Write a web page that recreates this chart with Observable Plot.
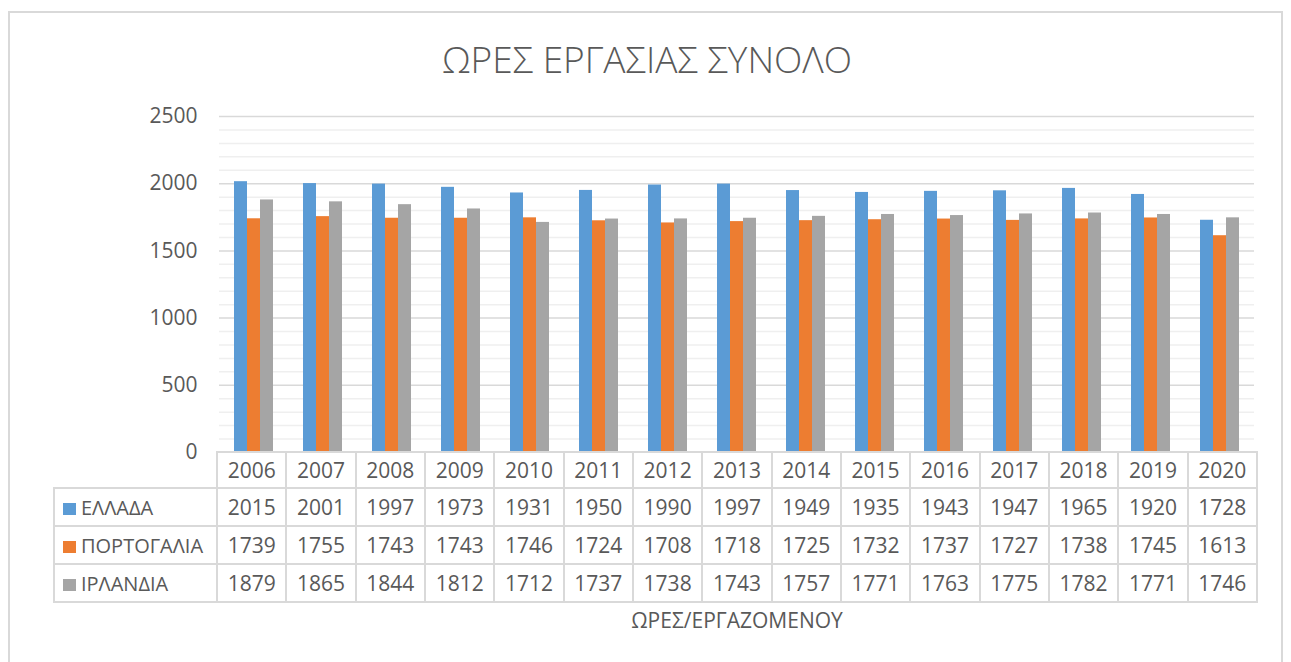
<!DOCTYPE html>
<html>
<head>
<meta charset="utf-8">
<script src="https://cdn.jsdelivr.net/npm/d3@7"></script>
<script src="https://cdn.jsdelivr.net/npm/@observablehq/plot@0.6"></script>
<style>
  html, body { margin: 0; padding: 0; background: #fff; }
  #wrap { position: relative; width: 1291px; height: 662px; overflow: hidden; font-family: "Open Sans", "Noto Sans", sans-serif; color: #595959; }
  #frame { position: absolute; left: 8px; top: 11px; width: 1275px; height: 700px; border: 2px solid #d9d9d9; box-sizing: border-box; }
  #title { position: absolute; left: 0; width: 1294px; top: 33px; text-align: center; font-size: 37px; font-weight: 300; line-height: 52px; color: #595959; }
  #chart { position: absolute; left: 0; top: 0; }
  #tbl { position: absolute; left: 53px; top: 451px; border-collapse: collapse; table-layout: fixed; }
  #tbl td { border: 2px solid #d9d9d9; padding: 0; text-align: center; font-size: 21px; color: #595959; white-space: nowrap; overflow: hidden; }
  #tbl td.blank { border: none; border-right: 2px solid #d9d9d9; }
  #tbl td.lab { text-align: left; font-size: 20px; padding-left: 8px; }
  .sw { display: inline-block; width: 13px; height: 12px; margin-right: 5px; vertical-align: 0px; }
  #xlabel { position: absolute; left: 0; width: 1474px; top: 606px; text-align: center; font-size: 21px; color: #595959; }
</style>
</head>
<body>
<div id="wrap">
  <div id="frame"></div>
  <div id="title"></div>
  <div id="chart"></div>
  <table id="tbl"></table>
  <div id="xlabel"></div>
</div>
<script>
const title = "ΩΡΕΣ ΕΡΓΑΣΙΑΣ ΣΥΝΟΛΟ";
const axisTitle = "ΩΡΕΣ/ΕΡΓΑΖΟΜΕΝΟΥ";
const years = ["2006","2007","2008","2009","2010","2011","2012","2013","2014","2015","2016","2017","2018","2019","2020"];
const seriesNames = ["ΕΛΛΑΔΑ", "ΠΟΡΤΟΓΑΛΙΑ", "ΙΡΛΑΝΔΙΑ"];
const seriesColors = ["#5B9BD5", "#ED7D31", "#A5A5A5"];
const greece   = [2015, 2001, 1997, 1973, 1931, 1950, 1990, 1997, 1949, 1935, 1943, 1947, 1965, 1920, 1728];
const portugal = [1739, 1755, 1743, 1743, 1746, 1724, 1708, 1718, 1725, 1732, 1737, 1727, 1738, 1745, 1613];
const ireland  = [1879, 1865, 1844, 1812, 1712, 1737, 1738, 1743, 1757, 1771, 1763, 1775, 1782, 1771, 1746];
const majorTicks = [0, 500, 1000, 1500, 2000, 2500];
const minorTicks = [100,200,300,400,600,700,800,900,1100,1200,1300,1400,1600,1700,1800,1900,2100,2200,2300,2400];

const seriesValues = [greece, portugal, ireland];
const data = [];
years.forEach((y, i) => seriesNames.forEach((s, j) => data.push({year: y, series: s, value: seriesValues[j][i]})));

document.getElementById("title").textContent = title;
document.getElementById("xlabel").textContent = axisTitle;

const chart = Plot.plot({
  width: 1291,
  height: 470,
  marginLeft: 216,
  marginRight: 35,
  marginTop: 116,
  marginBottom: 18,
  style: { fontFamily: "'Open Sans', 'Noto Sans', sans-serif", fontSize: "21px", color: "#595959", background: "transparent" },
  fx: { domain: years, padding: 0, axis: null, label: null },
  x: { domain: seriesNames, paddingInner: 0, paddingOuter: 0.975, axis: null },
  y: { domain: [0, 2500], ticks: majorTicks, tickSize: 0, tickPadding: 22, label: null, tickFormat: d => String(d) },
  color: { domain: seriesNames, range: seriesColors },
  marks: [
    Plot.gridY(minorTicks, { stroke: "#efefef", strokeOpacity: 1, strokeWidth: 1.5 }),
    Plot.gridY(majorTicks.slice(1), { stroke: "#d9d9d9", strokeOpacity: 1, strokeWidth: 1.5 }),
    Plot.barY(data, { fx: "year", x: "series", y: "value", fill: "series" })
  ]
});
document.getElementById("chart").appendChild(chart);

// data table under the chart
const tbl = d3.select("#tbl");
const colg = tbl.append("colgroup");
colg.append("col").style("width", "163px");
years.forEach(() => colg.append("col").style("width", "69.33px"));
const head = tbl.append("tr").style("height", "36px");
head.append("td").attr("class", "blank");
years.forEach(y => head.append("td").text(y));
seriesNames.forEach((s, j) => {
  const tr = tbl.append("tr").style("height", "38px");
  const lab = tr.append("td").attr("class", "lab");
  lab.append("span").attr("class", "sw").style("background", seriesColors[j]);
  lab.append("span").text(s);
  seriesValues[j].forEach(v => tr.append("td").text(v));
});
tbl.style("width", (163 + 15 * 69.33) + "px");
</script>
</body>
</html>
